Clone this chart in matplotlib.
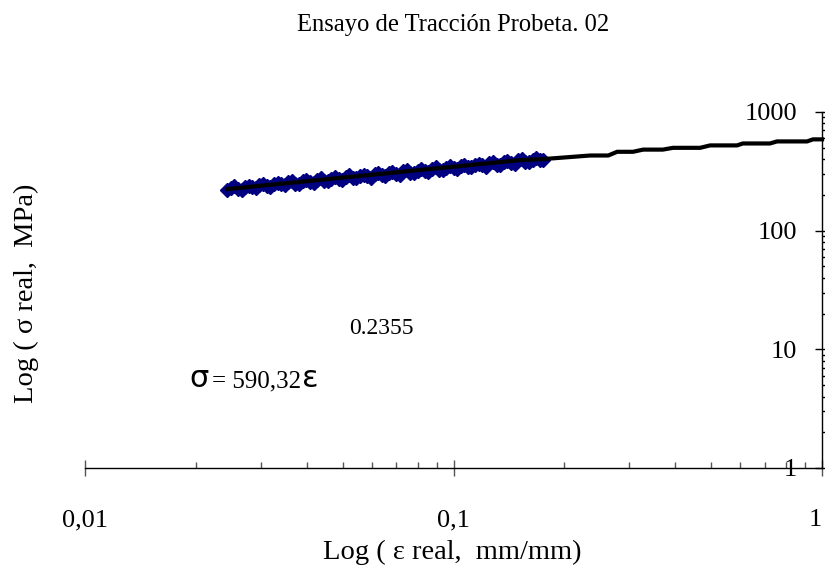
import matplotlib
matplotlib.use("Agg")
import matplotlib.pyplot as plt
from matplotlib.ticker import LogLocator, FixedLocator, FixedFormatter, NullFormatter

plt.rcParams['font.family'] = ['Liberation Serif', 'DejaVu Serif']

# ---- data ----
strain_pts = [0.0243, 0.0254, 0.0266, 0.0278, 0.0291, 0.0304, 0.0318, 0.0333, 0.0348, 0.0364,
              0.0381, 0.0398, 0.0417, 0.0436, 0.0456, 0.0477, 0.0498, 0.0521, 0.0545, 0.0570,
              0.0597, 0.0624, 0.0653, 0.0683, 0.0714, 0.0747, 0.0781, 0.0817, 0.0854, 0.0894,
              0.0935, 0.0978, 0.1022, 0.1069, 0.1118, 0.1170, 0.1223, 0.1280, 0.1338, 0.1400,
              0.1464, 0.1531, 0.1602, 0.1675, 0.1750]
stress_pts = [222, 236, 221, 240, 229, 249, 233, 251, 242, 262,
              248, 267, 252, 277, 261.5, 281, 266, 292, 276, 297,
              280, 308, 291, 313, 295, 324, 306.5, 330, 311.5, 342,
              323, 348, 328, 361, 341, 367, 346, 380, 359, 387,
              365, 401, 379, 408, 397]

strain_pts_b = [0.02485, 0.0260, 0.0272, 0.02845, 0.02975, 0.0311, 0.03255, 0.03405, 0.0356, 0.03725,
                0.03895, 0.04075, 0.04265, 0.0446, 0.04665, 0.04875, 0.05095, 0.0533, 0.05575, 0.05835,
                0.06105, 0.06385, 0.0668, 0.06985, 0.07305, 0.0764, 0.0799, 0.08355, 0.0874, 0.09145,
                0.09565, 0.1000, 0.10455, 0.10935, 0.1144, 0.11965, 0.12515, 0.1309, 0.1369, 0.1432,
                0.14975, 0.15665, 0.16385, 0.17125]
stress_pts_b = [228, 226, 234, 232, 242, 236, 246.5, 245, 256, 249,
                260, 258, 269.5, 262.5, 274, 272, 284, 276.5, 289, 287,
                299.5, 292, 304.5, 302.5, 316, 307.5, 321, 319, 333, 324.5,
                339, 336.5, 351, 342, 357, 355, 370, 360.5, 376.5, 374,
                390.5, 380, 397, 394]

curve_strain = [0.0243, 0.05, 0.1, 0.1515, 0.175, 0.235, 0.263, 0.278, 0.307, 0.327,
                0.370, 0.394, 0.467, 0.497, 0.588, 0.610, 0.7225, 0.755, 0.911, 0.945, 1.0]
curve_stress = [224, 280, 346, 393, 401, 430, 430, 462, 462, 482,
                482, 499, 499, 523, 523, 543, 543, 565, 565, 588, 588]

x_ticks = [0.01, 0.1, 1]
x_ticklabels = ['0,01', '0,1', '1']
y_ticks = [1, 10, 100, 1000]
y_ticklabels = ['1', '10', '100', '1000']

title = 'Ensayo de Tracción Probeta. 02'
xlabel = 'Log ( ε real,  mm/mm)'
ylabel = 'Log ( σ real,  MPa)'

W, H = 825, 579
fig = plt.figure(figsize=(W / 100, H / 100), dpi=100)
ax = fig.add_axes([85 / W, 1 - 468 / H, (822 - 85) / W, (468 - 112) / H])

ax.set_xscale('log')
ax.set_yscale('log')
ax.set_xlim(0.01, 1)
ax.set_ylim(1, 1000)

for xs, ys in [(strain_pts, stress_pts), (strain_pts_b, stress_pts_b)]:
    ax.plot(xs, ys, linestyle='none', marker='D', markersize=7.5,
            color='#000080', markeredgecolor='#000080', zorder=3, clip_on=False)
ax.plot(curve_strain, curve_stress, color='black', linewidth=3, zorder=4,
        solid_joinstyle='round', clip_on=False)

for s in ['top', 'right']:
    ax.spines[s].set_visible(False)
ax.spines['left'].set_position(('data', 1))
ax.spines['left'].set_linewidth(1.0)
ax.spines['bottom'].set_linewidth(1.0)

ax.xaxis.set_major_locator(FixedLocator(x_ticks))
ax.xaxis.set_major_formatter(FixedFormatter(x_ticklabels))
ax.xaxis.set_minor_locator(LogLocator(base=10, subs=range(2, 10)))
ax.xaxis.set_minor_formatter(NullFormatter())
ax.yaxis.set_major_locator(FixedLocator(y_ticks))
ax.yaxis.set_major_formatter(FixedFormatter(y_ticklabels))
ax.yaxis.set_minor_locator(LogLocator(base=10, subs=range(2, 10)))
ax.yaxis.set_minor_formatter(NullFormatter())

ax.tick_params(axis='x', which='major', direction='inout', length=11.5, width=1,
               color='#555555', labelsize=19, pad=24)
ax.tick_params(axis='x', which='minor', direction='in', length=4.5, width=1, color='#555555')
ax.tick_params(axis='y', which='major', direction='inout', length=10, width=1,
               color='black', labelsize=19, pad=13)
ax.tick_params(axis='y', which='minor', direction='in', length=4, width=1, color='black')

ax.set_facecolor('none')
fig.canvas.draw()
ax.get_xticklabels()[-1].set_horizontalalignment('right')

fig.text(453 / W, 1 - 25 / H, title, ha='center', va='center', fontsize=17.7)
fig.text(452 / W, 1 - 552 / H, xlabel, ha='center', va='center', fontsize=20.5)
fig.text(26 / W, 1 - 293 / H, ylabel, ha='center', va='center', fontsize=20.5, rotation=90)

base_y = 1 - 387 / H
fig.text(189 / W, base_y, 'σ', ha='left', va='baseline', fontsize=22, family=['DejaVu Sans'])
fig.text(212 / W, base_y, '= 590,32', ha='left', va='baseline', fontsize=18)
fig.text(302 / W, base_y, 'ε', ha='left', va='baseline', fontsize=22, family=['DejaVu Sans'])
fig.text(381 / W, 1 - 328 / H, '0.2355', ha='center', va='center', fontsize=17)

fig.savefig('out.png', dpi=100)
